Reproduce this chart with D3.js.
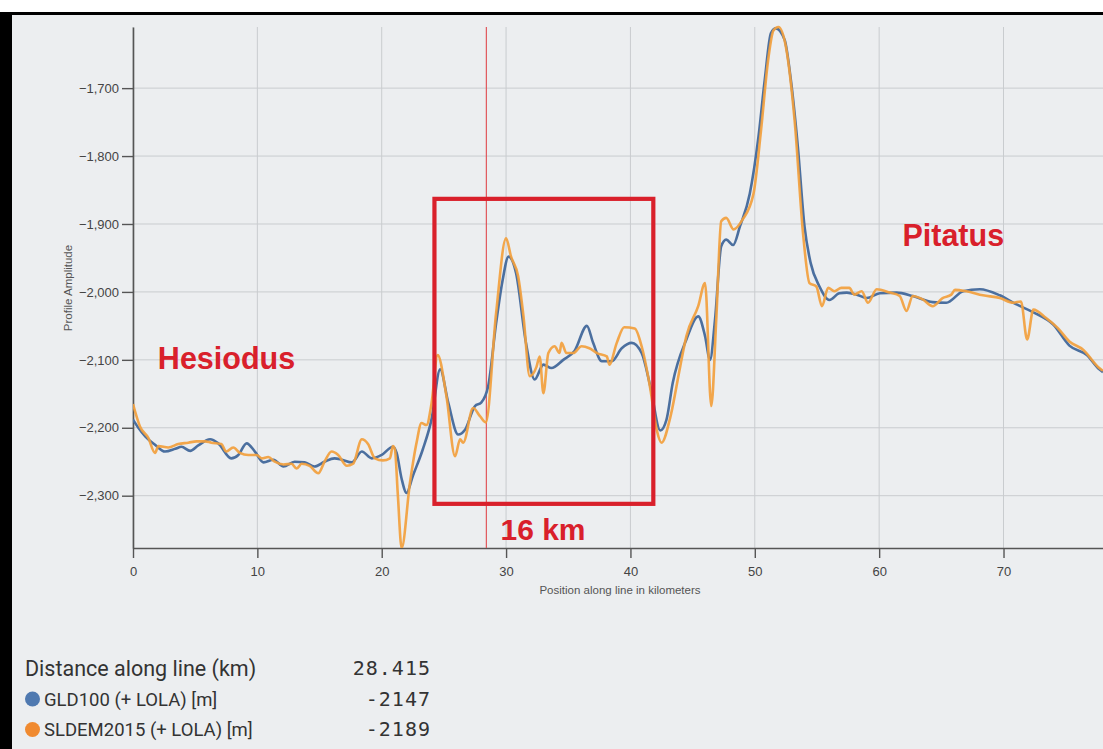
<!DOCTYPE html>
<html>
<head>
<meta charset="utf-8">
<script src="https://cdn.jsdelivr.net/npm/d3@7"></script>
<style>
	body { margin: 0; background: #fff; }
	svg { display: block; }
</style>
</head>
<body>
<svg width="1103" height="749"></svg>
<script>
const svg = d3.select('svg');

// GLD100 (+ LOLA) profile, km along line / metres
const gldKm = [0, 0.43, 1.0, 1.77, 2.57, 3.4, 3.9, 4.6, 5.25, 6.2, 6.86, 7.9, 8.47, 9.14, 9.8, 10.5, 11.3, 12.1, 13.0, 13.8,
	14.6, 15.4, 16.2, 16.8, 17.6, 18.4, 19.2, 20.0, 20.9, 21.2, 21.6, 22.0, 22.5, 23.3, 24.0, 24.7, 25.35, 26.15, 26.7, 27.5,
	28.0, 28.56, 29.2, 29.7, 30.2, 30.8, 31.6, 32.3, 33.0, 33.65, 34.6, 35.5, 36.5, 37.0, 37.7, 38.5, 39.3, 40.1, 40.9, 41.6,
	42.4, 42.9, 43.4, 44.5, 45.45, 46.0, 46.4, 46.8, 47.3, 47.7, 48.26, 48.8, 49.6, 50.3, 50.8, 51.3, 51.7, 52.4, 52.9, 53.46,
	54.0, 54.5, 55.2, 56.0, 56.8, 57.4, 58.2, 59.0, 60.05, 61.4, 62.7, 64.3, 65.4, 66.75, 68.1, 69.7, 71.0, 72.4, 74.0, 75.3,
	76.7, 77.7, 78.0];
const gldM = [-2188, -2200, -2213, -2225, -2235, -2231, -2228, -2234, -2226, -2217, -2223, -2245, -2240, -2223, -2235, -2251, -2247, -2257, -2250, -2251,
	-2257, -2250, -2245, -2247, -2251, -2235, -2245, -2240, -2228, -2237, -2275, -2296, -2271, -2232, -2188, -2114, -2163, -2210, -2203, -2168,
	-2163, -2139, -2046, -1985, -1948, -1972, -2075, -2129, -2107, -2112, -2100, -2087, -2050, -2075, -2102, -2102, -2083, -2075, -2090, -2139,
	-2204, -2188, -2134, -2070, -2036, -2065, -2100, -2041, -1933, -1923, -1931, -1904, -1855, -1771, -1688, -1619, -1612, -1629, -1688, -1786,
	-1904, -1958, -1992, -2012, -2002, -2001, -2004, -2009, -2002, -2001, -2006, -2015, -2016, -1999, -1996, -2005, -2018, -2030, -2048, -2079,
	-2093, -2114, -2118];

// SLDEM2015 (+ LOLA) profile
const sldKm = [0, 0.56, 1.23, 1.77, 2.04, 2.84, 3.64, 4.45, 5.1, 5.8, 6.3, 7.1, 7.5, 8.06, 8.6, 9.27, 9.94, 10.35, 10.88, 11.4,
	12.1, 12.75, 13.16, 13.56, 14.2, 14.9, 15.4, 15.97, 16.5, 17.2, 17.7, 18.4, 18.9, 19.45, 20.1, 20.66, 20.9, 21.06, 21.3, 21.6,
	22.27, 22.8, 23.2, 23.6, 24.0, 24.5, 25.2, 25.9, 26.3, 26.55, 27.35, 27.9, 28.37, 29.2, 30.0, 30.4, 30.97, 31.4, 31.9, 32.45,
	32.7, 33.0, 33.4, 33.9, 34.3, 34.46, 34.85, 35.4, 36.07, 36.7, 37.3, 38.1, 38.3, 38.9, 39.5, 40.35, 40.9, 41.6, 42.1, 42.5,
	43.2, 44.0, 44.5, 45.45, 46.0, 46.5, 46.9, 47.3, 47.7, 48.3, 49.0, 49.9, 50.5, 51.07, 51.5, 51.9, 52.5, 53.2, 53.9, 54.4,
	54.95, 55.4, 55.9, 56.4, 56.96, 57.6, 58.0, 58.6, 59.1, 59.8, 60.85, 61.65, 62.2, 62.7, 63.5, 64.3, 65.1, 65.8, 66.1, 67.0,
	68.35, 69.7, 70.8, 71.4, 71.9, 72.4, 73.4, 74.35, 75.3, 76.4, 77.7, 78.0];
const sldM = [-2165, -2198, -2215, -2237, -2227, -2229, -2224, -2222, -2220, -2220, -2222, -2224, -2235, -2229, -2237, -2240, -2240, -2245, -2243, -2250,
	-2254, -2253, -2260, -2253, -2256, -2267, -2250, -2235, -2240, -2256, -2253, -2217, -2224, -2245, -2248, -2245, -2227, -2232, -2300, -2377,
	-2281, -2222, -2193, -2196, -2165, -2093, -2153, -2242, -2217, -2222, -2171, -2183, -2192, -2031, -1921, -1948, -1977, -2036, -2124, -2110,
	-2095, -2149, -2090, -2080, -2090, -2075, -2090, -2090, -2080, -2083, -2090, -2095, -2107, -2075, -2052, -2054, -2080, -2143, -2202, -2222,
	-2185, -2110, -2065, -2021, -1987, -2168, -2041, -1896, -1891, -1908, -1894, -1855, -1762, -1659, -1615, -1610, -1639, -1747, -1918, -1987,
	-1992, -2021, -1994, -1999, -1994, -1994, -2004, -1999, -2016, -1996, -2001, -2006, -2028, -2006, -2011, -2021, -2009, -2004, -1997, -1999,
	-2005, -2009, -2016, -2014, -2070, -2026, -2038, -2053, -2073, -2085, -2112, -2116];

const xTicks = [0, 10, 20, 30, 40, 50, 60, 70];
const yTicks = [-1700, -1800, -1900, -2000, -2100, -2200, -2300];

const cursorKm = 28.415;
const cursorValues = ['28.415', '-2147', '-2189'];
const legendLabels = ['GLD100 (+ LOLA) [m]', 'SLDEM2015 (+ LOLA) [m]'];
const seriesColors = ['#4b6f9f', '#f29f3d'];
const dotColors = ['#4f79b0', '#f08a30'];

// highlighted 16 km stretch: [km start, km end], [m top, m bottom]
const boxKm = [24.24, 41.84];
const boxM = [-1863, -2312];
const craters = [
	{name: 'Hesiodus', km: 2.0, m: -2113},
	{name: 'Pitatus', km: 61.87, m: -1932}
];

const plotLeft = 133, plotRight = 1103, plotTop = 27, plotBottom = 548;

const x = d3.scaleLinear()
	.domain(d3.extent(gldKm.concat(sldKm)))
	.range([plotLeft, plotRight]);

const y = d3.scaleLinear()
	.domain(d3.extent(gldM.concat(sldM)))
	.range([plotBottom, plotTop]);

// page frame
svg.append('rect').attr('width', 1103).attr('height', 749).attr('fill', '#fff');
svg.append('rect').attr('x', 0).attr('y', 12).attr('width', 1103).attr('height', 737).attr('fill', '#000');
svg.append('rect').attr('x', 12).attr('y', 15).attr('width', 1091).attr('height', 734).attr('fill', '#eceef0');

svg.append('defs').append('clipPath').attr('id', 'plot')
	.append('rect')
		.attr('x', plotLeft)
		.attr('y', plotTop - 2)
		.attr('width', plotRight - plotLeft)
		.attr('height', plotBottom - plotTop + 2);

// grid
svg.append('g')
	.selectAll('line').data(xTicks)
	.enter().append('line')
		.attr('x1', d => x(d))
		.attr('x2', d => x(d))
		.attr('y1', plotTop)
		.attr('y2', plotBottom)
		.attr('stroke', '#c9cccf')
		.attr('stroke-width', 1);

svg.append('g')
	.selectAll('line').data(yTicks)
	.enter().append('line')
		.attr('x1', plotLeft)
		.attr('x2', plotRight)
		.attr('y1', d => y(d))
		.attr('y2', d => y(d))
		.attr('stroke', '#c9cccf')
		.attr('stroke-width', 1);

// axes
const xAxis = svg.append('g')
	.attr('transform', `translate(0,${plotBottom})`)
	.call(d3.axisBottom(x).tickValues(xTicks).tickSize(10).tickSizeOuter(0).tickPadding(9));

const yAxis = svg.append('g')
	.attr('transform', `translate(${plotLeft},0)`)
	.call(d3.axisLeft(y).tickValues(yTicks).tickFormat(d3.format(',')).tickSize(11).tickSizeOuter(0).tickPadding(3));

[xAxis, yAxis].forEach(g => {
	g.select('.domain').attr('stroke', '#555').attr('stroke-width', 1.6);
	g.selectAll('.tick line').attr('stroke', '#555').attr('stroke-width', 1.4);
	g.selectAll('.tick text')
		.attr('fill', '#444')
		.attr('font-family', 'Liberation Sans, Arial, sans-serif')
		.attr('font-size', '13px');
});

svg.append('text')
	.text('Position along line in kilometers')
	.attr('x', 620)
	.attr('y', 594)
	.attr('text-anchor', 'middle')
	.attr('fill', '#555')
	.attr('font-family', 'Liberation Sans, Arial, sans-serif')
	.attr('font-size', '11.5px');

svg.append('text')
	.text('Profile Amplitude')
	.attr('transform', 'translate(72,288) rotate(-90)')
	.attr('text-anchor', 'middle')
	.attr('fill', '#555')
	.attr('font-family', 'Liberation Sans, Arial, sans-serif')
	.attr('font-size', '11.5px');

// cursor line
svg.append('line')
	.attr('x1', x(cursorKm))
	.attr('x2', x(cursorKm))
	.attr('y1', plotTop)
	.attr('y2', plotBottom)
	.attr('stroke', '#e0575c')
	.attr('stroke-width', 1.2);

// profiles
const line = d3.line()
	.x(d => x(d[0]))
	.y(d => y(d[1]))
	.curve(d3.curveMonotoneX);

const series = [d3.zip(gldKm, gldM), d3.zip(sldKm, sldM)];

svg.append('g')
	.attr('clip-path', 'url(#plot)')
	.selectAll('path').data(series)
	.enter().append('path')
		.attr('d', line)
		.attr('fill', 'none')
		.attr('stroke', (d,i) => seriesColors[i])
		.attr('stroke-width', 2.6)
		.attr('stroke-opacity', (d,i) => i === 1 ? 0.92 : 1)
		.attr('stroke-linejoin', 'round');

// annotations
svg.append('rect')
	.attr('x', x(boxKm[0]))
	.attr('y', y(boxM[0]))
	.attr('width', x(boxKm[1]) - x(boxKm[0]))
	.attr('height', y(boxM[1]) - y(boxM[0]))
	.attr('fill', 'none')
	.attr('stroke', '#d9202b')
	.attr('stroke-width', 4.2);

svg.append('text')
	.text('16 km')
	.attr('x', 543)
	.attr('y', 540)
	.attr('text-anchor', 'middle')
	.attr('fill', '#d9202b')
	.attr('font-family', 'Liberation Sans, Arial, sans-serif')
	.attr('font-weight', 'bold')
	.attr('font-size', '30px');

svg.selectAll('text.crater').data(craters)
	.enter().append('text')
		.attr('class', 'crater')
		.text(d => d.name)
		.attr('x', d => x(d.km))
		.attr('y', d => y(d.m))
		.attr('fill', '#d9202b')
		.attr('font-family', 'Liberation Sans, Arial, sans-serif')
		.attr('font-weight', 'bold')
		.attr('font-size', '30.5px');

// readout legend
svg.append('text')
	.text('Distance along line (km)')
	.attr('x', 25)
	.attr('y', 676)
	.attr('fill', '#333')
	.attr('font-family', 'Roboto, sans-serif')
	.attr('font-size', '21.5px');

svg.selectAll('circle').data(legendLabels)
	.enter().append('circle')
		.attr('cx', 32.5)
		.attr('cy', (d,i) => 699 + i*30.5)
		.attr('r', 7.5)
		.attr('fill', (d,i) => dotColors[i]);

svg.selectAll('text.legend').data(legendLabels)
	.enter().append('text')
		.attr('class', 'legend')
		.text(d => d)
		.attr('x', 44)
		.attr('y', (d,i) => 705.5 + i*30.5)
		.attr('fill', '#333')
		.attr('font-family', 'Roboto, sans-serif')
		.attr('font-size', '18.5px');

svg.selectAll('text.value').data(cursorValues)
	.enter().append('text')
		.attr('class', 'value')
		.text(d => d)
		.attr('x', 431)
		.attr('y', (d,i) => 675 + i*30.5)
		.attr('text-anchor', 'end')
		.attr('fill', '#333')
		.attr('font-family', 'DejaVu Sans Mono, monospace')
		.attr('font-size', '20px')
		.attr('letter-spacing', '1px');
</script>
</body>
</html>
